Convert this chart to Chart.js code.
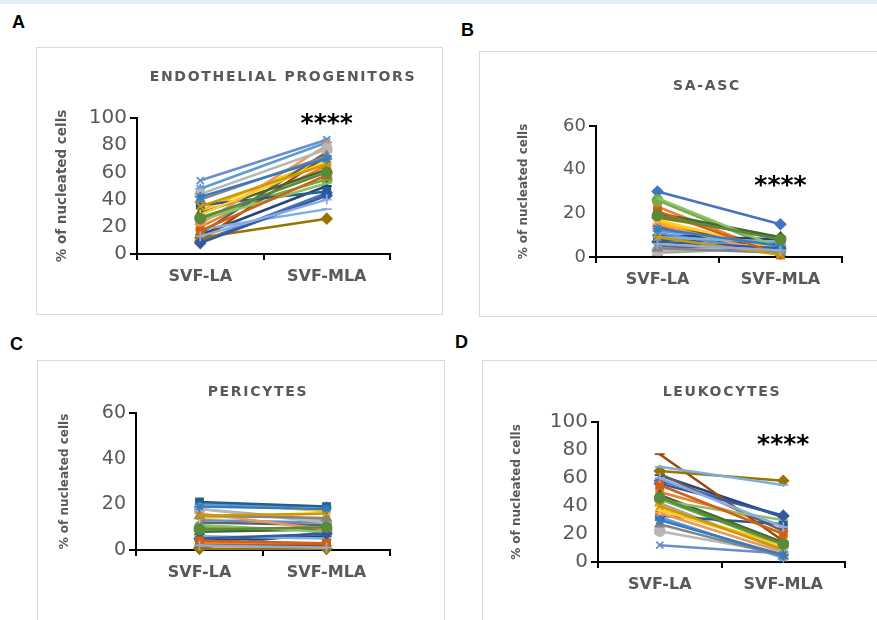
<!DOCTYPE html>
<html>
<head>
<meta charset="utf-8">
<script src="https://cdn.jsdelivr.net/npm/chart.js@4.4.1/dist/chart.umd.min.js"></script>
<style>
    body { margin: 0; background: #fff; width: 877px; height: 620px; overflow: hidden; position: relative; }
    .strip { position: absolute; left: 0; top: 0; width: 877px; height: 4px; background: #e2eff5; }
    .letter { position: absolute; font: bold 18px "Liberation Sans", Arial, sans-serif; color: #000; }
    .box { position: absolute; border: 1px solid #d9d9d9; box-sizing: border-box; }
    canvas { position: absolute; }
</style>
</head>
<body>
<div class="strip"></div>
<div class="letter" style="left:12px;top:12px">A</div>
<div class="letter" style="left:461px;top:20px">B</div>
<div class="letter" style="left:10px;top:334px">C</div>
<div class="letter" style="left:455px;top:332px">D</div>

<div class="box" id="boxA"></div><canvas id="chartA"></canvas>
<div class="box" id="boxB"></div><canvas id="chartB"></canvas>
<div class="box" id="boxC"></div><canvas id="chartC"></canvas>
<div class="box" id="boxD"></div><canvas id="chartD"></canvas>

<script>
const categories = ['SVF-LA', 'SVF-MLA'];
const yLabel = '% of nucleated cells';

// endothelial progenitors, one value per donor
const epLA  = [9, 20, 24, 32, 48, 27, 14, 10, 15, 12, 36, 30, 54, 22, 44, 29, 18, 25, 8, 17, 40, 35, 42, 26, 13];
const epMLA = [45, 65, 62, 70, 82, 55, 50, 72, 75, 26, 46, 62, 84, 80, 77, 68, 33, 52, 43, 58, 72, 66, 70, 60, 40];

// SA-ASC
const ascLA  = [30, 23, 2, 16, 12, 26, 10, 14, 5, 18, 8, 20, 11, 15, 3, 17, 9, 27, 7, 21, 4, 9, 13, 19, 6];
const ascMLA = [15, 1, 4, 2, 6, 3, 8, 5, 3, 9, 6, 9, 2, 1, 5, 3, 7, 4, 4, 1, 2, 1, 5, 8, 3];

// pericytes
const periLA  = [1, 3, 18, 21, 20, 10, 4, 2, 12, 0.5, 21, 8, 13, 16, 18, 14, 6, 11, 5, 4, 15, 15, 19, 9, 2];
const periMLA = [8, 3, 13, 17, 19, 9, 6, 2, 11, 0.5, 19, 9, 12, 9, 12, 16, 5, 8, 7, 3, 14, 16, 18, 10, 1];

// leukocytes
const leuLA  = [58, 50, 42, 38, 32, 45, 62, 77, 63, 65, 33, 48, 12, 35, 22, 37, 68, 44, 56, 55, 27, 40, 30, 46, 60];
const leuMLA = [33, 26, 8, 12, 3, 12, 32, 15, 22, 58, 27, 14, 6, 7, 6, 11, 55, 30, 33, 20, 4, 9, 5, 13, 25];

const palette = ['#4472C4', '#ED7D31', '#A5A5A5', '#FFC000', '#5B9BD5', '#70AD47', '#264478', '#9E480E',
    '#636363', '#997300', '#255E91', '#43682B', '#698ED0', '#F1975A', '#B7B7B7', '#FFCD33', '#7CAFDD',
    '#8CC168', '#335AA1', '#D26012', '#848484', '#CC9A00', '#327DC2', '#5A8A39', '#8FAADC'];
const markers = ['rectRot', 'rect', 'triangle', 'crossRot', 'star', 'circle', 'cross', 'line', 'dash'];

// panel title and significance stars
const panelText = {
    id: 'panelText',
    afterDraw(chart, args, opts) {
        const ctx = chart.ctx;
        ctx.save();
        ctx.textAlign = 'center';
        ctx.textBaseline = 'middle';
        ctx.fillStyle = '#595959';
        ctx.font = 'bold 14px "DejaVu Sans"';
        ctx.letterSpacing = '1.7px';
        ctx.fillText(opts.title, opts.titleX, opts.titleY);
        if (opts.stars) {
            ctx.letterSpacing = '0px';
            ctx.fillStyle = '#000';
            ctx.font = 'bold 25px "DejaVu Sans"';
            const x = chart.scales.x.getPixelForValue(opts.stars[0]);
            const y = chart.scales.y.getPixelForValue(opts.stars[1]);
            ctx.fillText('****', x, y + 4);
        }
        ctx.restore();
    }
};

const makePanel = (id, la, mla, L) => {
    const box = L.box, area = L.area;
    const boxEl = document.getElementById('box' + id);
    const canvas = document.getElementById('chart' + id);
    for (const el of [boxEl, canvas]) {
        el.style.left = box.x + 'px';
        el.style.top = box.y + 'px';
        el.style.width = box.w + 'px';
        el.style.height = box.h + 'px';
    }
    canvas.width = box.w;
    canvas.height = box.h;

    const datasets = la.map((v, i) => ({
        data: [v, mla[i]],
        borderColor: palette[i % palette.length],
        backgroundColor: palette[i % palette.length],
        pointBackgroundColor: palette[i % palette.length],
        pointStyle: markers[i % markers.length],
        pointRadius: 5,
        pointBorderWidth: 1.8,
        borderWidth: 2.5,
        clip: false,
        order: -i
    }));

    const grey = '#595959';
    new Chart(canvas, {
        type: 'line',
        data: { labels: categories, datasets },
        options: {
            responsive: false,
            animation: false,
            events: [],
            layout: { padding: { left: 0, top: area.t - box.y, right: box.x + box.w - area.r, bottom: 0 } },
            plugins: {
                legend: { display: false },
                tooltip: { enabled: false },
                panelText: { title: L.title, titleX: L.titlePos[0] - box.x, titleY: L.titlePos[1] - box.y, stars: L.stars }
            },
            scales: {
                x: {
                    offset: true,
                    grid: { offset: true, drawOnChartArea: false, tickLength: 6, color: '#000', tickColor: '#000', lineWidth: 2, tickWidth: 2 },
                    border: { color: '#000', width: 2 },
                    ticks: { color: grey, padding: 7, font: { family: 'DejaVu Sans', weight: 'bold', size: 16 } },
                    afterFit: s => { s.height = box.y + box.h - area.b; }
                },
                y: {
                    min: 0,
                    max: L.yMax,
                    ticks: { stepSize: L.yStep, color: grey, padding: 3, font: { family: 'DejaVu Sans', size: L.tickSize } },
                    grid: {
                        drawOnChartArea: false, tickLength: 7, lineWidth: 2, tickWidth: 2,
                        tickColor: c => (c.tick && (c.tick.value === 0 || c.tick.value === L.yMax)) ? '#000' : 'rgba(0,0,0,0)'
                    },
                    border: { color: '#000', width: 2 },
                    title: {
                        display: true, text: yLabel, color: grey,
                        font: { family: 'DejaVu Sans', weight: 'bold', size: L.labelSize },
                        padding: { top: L.labelX - box.x - L.labelSize * 0.6, bottom: 0 }
                    },
                    afterFit: s => { s.width = area.l - box.x; }
                }
            }
        },
        plugins: [panelText]
    });
};

const layouts = {
    A: { box: { x: 36, y: 47, w: 407, h: 268 }, area: { l: 137, t: 118, r: 390, b: 254 },
         yMax: 100, yStep: 20, tickSize: 20, labelSize: 13.5, labelX: 62,
         title: 'ENDOTHELIAL PROGENITORS', titlePos: [283, 77], stars: [1, 98] },
    B: { box: { x: 479, y: 51, w: 402, h: 266 }, area: { l: 596, t: 126, r: 842, b: 257 },
         yMax: 60, yStep: 20, tickSize: 18, labelSize: 12, labelX: 524,
         title: 'SA-ASC', titlePos: [707, 86], stars: [1, 34] },
    C: { box: { x: 37, y: 360, w: 408, h: 265 }, area: { l: 136, t: 413, r: 390, b: 550 },
         yMax: 60, yStep: 20, tickSize: 19, labelSize: 12, labelX: 65,
         title: 'PERICYTES', titlePos: [258, 392], stars: null },
    D: { box: { x: 482, y: 360, w: 399, h: 265 }, area: { l: 598, t: 422, r: 845, b: 562 },
         yMax: 100, yStep: 20, tickSize: 20, labelSize: 12, labelX: 517,
         title: 'LEUKOCYTES', titlePos: [722, 392], stars: [1, 86] }
};

window.onload = () => {
    makePanel('A', epLA, epMLA, layouts.A);
    makePanel('B', ascLA, ascMLA, layouts.B);
    makePanel('C', periLA, periMLA, layouts.C);
    makePanel('D', leuLA, leuMLA, layouts.D);
};
</script>
</body>
</html>
